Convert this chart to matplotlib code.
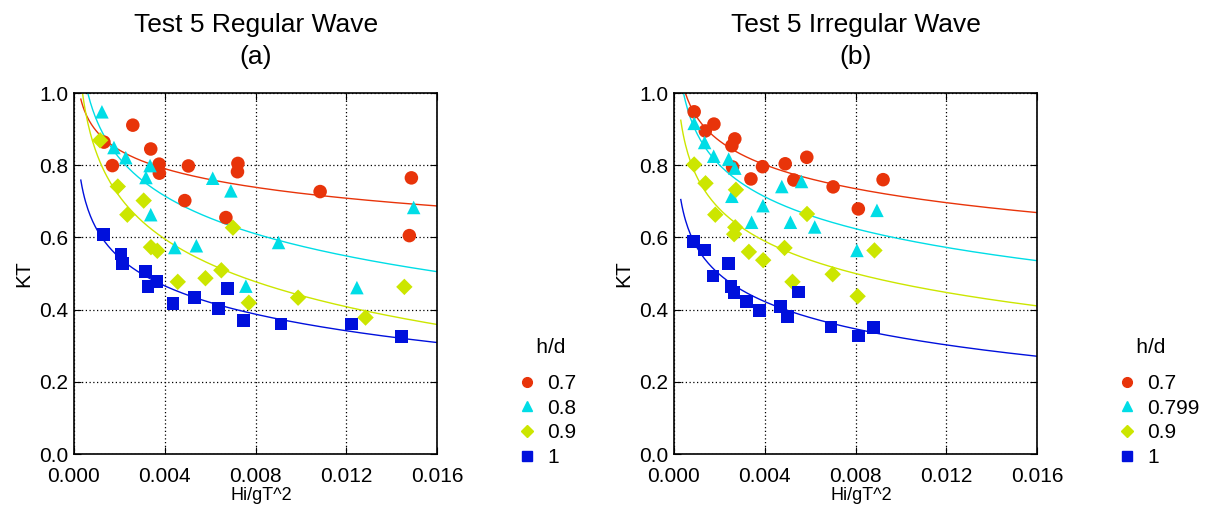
import numpy as np
import matplotlib.pyplot as plt
from matplotlib.lines import Line2D

plt.rcParams['font.family'] = ['Liberation Sans', 'DejaVu Sans']

# ---- data ----
hd_left = ["0.7", "0.8", "0.9", "1"]
hd_right = ["0.7", "0.799", "0.9", "1"]

reg_x_07 = [0.00132, 0.00259, 0.00169, 0.00338, 0.00375, 0.00376, 0.00504, 0.00488,
            0.00669, 0.00722, 0.00720, 0.01084, 0.01486, 0.01477]
reg_y_07 = [0.864, 0.911, 0.799, 0.845, 0.803, 0.778, 0.798, 0.702,
            0.655, 0.805, 0.782, 0.727, 0.765, 0.605]
reg_x_08 = [0.00123, 0.00176, 0.00228, 0.00335, 0.00317, 0.00338, 0.00611, 0.00691,
            0.00901, 0.01496, 0.00444, 0.00539, 0.00757, 0.01246]
reg_y_08 = [0.948, 0.849, 0.821, 0.799, 0.766, 0.663, 0.764, 0.729,
            0.586, 0.683, 0.572, 0.577, 0.465, 0.461]
reg_x_09 = [0.00115, 0.00193, 0.00307, 0.00235, 0.00700, 0.00339, 0.00367, 0.00457,
            0.00579, 0.00649, 0.00770, 0.00987, 0.01284, 0.01455]
reg_y_09 = [0.869, 0.741, 0.702, 0.663, 0.627, 0.573, 0.563, 0.477,
            0.487, 0.509, 0.419, 0.433, 0.378, 0.463]
reg_x_10 = [0.00131, 0.00207, 0.00215, 0.00314, 0.00326, 0.00366, 0.00436, 0.00532,
            0.00635, 0.00676, 0.00748, 0.00912, 0.01221, 0.01444]
reg_y_10 = [0.609, 0.554, 0.528, 0.506, 0.464, 0.477, 0.416, 0.433,
            0.402, 0.459, 0.369, 0.360, 0.360, 0.325]

irr_x_07 = [0.00089, 0.00176, 0.00138, 0.00268, 0.00255, 0.00258, 0.00339, 0.00390,
            0.00490, 0.00585, 0.00528, 0.00701, 0.00921, 0.00812]
irr_y_07 = [0.948, 0.914, 0.895, 0.873, 0.854, 0.795, 0.762, 0.796,
            0.804, 0.822, 0.759, 0.740, 0.760, 0.679]
irr_x_08 = [0.00089, 0.00135, 0.00175, 0.00241, 0.00268, 0.00255, 0.00392, 0.00342,
            0.00475, 0.00562, 0.00513, 0.00620, 0.00894, 0.00806]
irr_y_08 = [0.916, 0.863, 0.825, 0.817, 0.792, 0.714, 0.688, 0.642,
            0.741, 0.755, 0.642, 0.629, 0.675, 0.564]
irr_x_09 = [0.00089, 0.00139, 0.00273, 0.00182, 0.00270, 0.00265, 0.00586, 0.00487,
            0.00330, 0.00393, 0.00883, 0.00522, 0.00699, 0.00809]
irr_y_09 = [0.802, 0.750, 0.732, 0.663, 0.628, 0.609, 0.665, 0.571,
            0.560, 0.537, 0.564, 0.477, 0.498, 0.437]
irr_x_10 = [0.00085, 0.00135, 0.00239, 0.00172, 0.00251, 0.00264, 0.00321, 0.00375,
            0.00469, 0.00500, 0.00549, 0.00692, 0.00814, 0.00878]
irr_y_10 = [0.588, 0.565, 0.527, 0.493, 0.465, 0.448, 0.423, 0.398,
            0.408, 0.380, 0.449, 0.352, 0.327, 0.351]

colors = ["#e8340a", "#00dde6", "#cce600", "#0010dc"]
markers = ["o", "^", "D", "s"]
msizes = [95, 95, 70, 85]

panels = [
    ("Test 5 Regular Wave\n(a)", hd_left,
     [(reg_x_07, reg_y_07), (reg_x_08, reg_y_08), (reg_x_09, reg_y_09), (reg_x_10, reg_y_10)]),
    ("Test 5 Irregular Wave\n(b)", hd_right,
     [(irr_x_07, irr_y_07), (irr_x_08, irr_y_08), (irr_x_09, irr_y_09), (irr_x_10, irr_y_10)]),
]

fig = plt.figure(figsize=(12.15, 5.14), dpi=100)
ax_lefts = [0.0609, 0.5547]
xfit = np.linspace(0.0003, 0.016, 300)

for k, (title, labels, series) in enumerate(panels):
    ax = fig.add_axes([ax_lefts[k], 0.1167, 0.2990, 0.7023])
    for (xs, ys), c, m, s in zip(series, colors, markers, msizes):
        # logarithmic trend line fitted to the points
        b, a = np.polyfit(np.log(xs), ys, 1)
        ax.plot(xfit, a + b * np.log(xfit), color=c, lw=1.0, zorder=2)
        ax.scatter(xs, ys, marker=m, s=s, color=c, edgecolors="none", zorder=3)
    ax.set_xlim(0, 0.016)
    ax.set_ylim(0, 1.0)
    ax.set_xticks([0.0, 0.004, 0.008, 0.012, 0.016])
    ax.set_xticklabels(["0.000", "0.004", "0.008", "0.012", "0.016"])
    ax.set_yticks([0.0, 0.2, 0.4, 0.6, 0.8, 1.0])
    ax.set_yticklabels(["0.0", "0.2", "0.4", "0.6", "0.8", "1.0"])
    ax.grid(True, color="black", linestyle=(0, (1, 2)), linewidth=0.9)
    ax.tick_params(direction="in", top=True, right=True, labelsize=15, length=5)
    ax.tick_params(axis="x", pad=9)
    ax.tick_params(axis="y", pad=4)
    for sp in ax.spines.values():
        sp.set_linewidth(1.2)
    ax.set_xlabel("Hi/gT^2", fontsize=13, labelpad=1)
    ax.xaxis.label.set_x(0.515)
    ax.set_ylabel("KT", fontsize=15, labelpad=4)
    ax.set_title(title, fontsize=19, pad=21, linespacing=1.4)

    handles = [Line2D([], [], marker=m, color=c, linestyle="none", markersize=7 if m != "D" else 6)
               for c, m in zip(colors, markers)]
    leg = ax.legend(handles, labels, title="   h/d", loc="upper left",
                    bbox_to_anchor=(1.173, 0.372), frameon=False,
                    fontsize=15, title_fontsize=15, handlelength=0.8, handletextpad=0.55,
                    labelspacing=0.27)
    leg._legend_box.align = "left"
    leg._legend_box.sep = 12

fig.savefig("out.png", dpi=100)
